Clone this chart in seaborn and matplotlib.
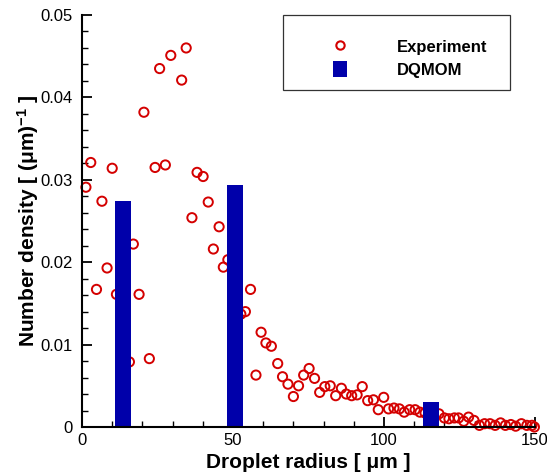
import matplotlib
matplotlib.use("Agg")
import matplotlib.pyplot as plt
import seaborn as sns
import pandas as pd
from matplotlib.patches import Rectangle, Patch
from matplotlib.lines import Line2D
from matplotlib.ticker import MultipleLocator, FixedLocator, FixedFormatter

# ---- data ----
exp_radius = [1.3, 2.9, 4.8, 6.6, 8.3, 10.0, 11.4, 15.7, 17.0, 18.9, 20.5, 22.3,
              24.2, 25.7, 27.6, 29.4, 33.0, 34.5, 36.4, 38.1, 40.1, 41.8, 43.5,
              45.4, 46.8, 48.3, 52.6, 54.1, 55.8, 57.6, 59.3, 60.9, 62.7, 64.8,
              66.4, 68.2, 70.0, 71.7, 73.4, 75.2, 77.0, 78.7, 80.4, 82.2, 84.0,
              85.9, 87.5, 89.3, 91.1, 92.8, 94.6, 96.5, 98.1, 99.9, 101.5, 103.3,
              105.1, 106.7, 108.5, 110.3, 111.9, 113.6, 118.2, 120.0, 121.5,
              123.3, 124.7, 126.4, 128.0, 129.8, 131.6, 133.3, 135.1, 136.8,
              138.6, 140.2, 142.0, 143.6, 145.5, 147.3, 149.0, 149.8]
exp_density = [0.0291, 0.0321, 0.0167, 0.0274, 0.0193, 0.0314, 0.0161, 0.0079,
               0.0222, 0.0161, 0.0382, 0.0083, 0.0315, 0.0435, 0.0318, 0.0451,
               0.0421, 0.0460, 0.0254, 0.0309, 0.0304, 0.0273, 0.0216, 0.0243,
               0.0194, 0.0203, 0.0137, 0.0140, 0.0167, 0.0063, 0.0115, 0.0102,
               0.0098, 0.0077, 0.0061, 0.0052, 0.0037, 0.0050, 0.0063, 0.0071,
               0.0059, 0.0042, 0.0049, 0.0050, 0.0038, 0.0047, 0.0040, 0.0038,
               0.0039, 0.0049, 0.0032, 0.0033, 0.0021, 0.0036, 0.0022, 0.0023,
               0.0022, 0.0018, 0.0021, 0.0021, 0.0018, 0.0017, 0.0016, 0.0011,
               0.0010, 0.0011, 0.0011, 0.0007, 0.0012, 0.0008, 0.0002, 0.0004,
               0.0004, 0.0002, 0.0005, 0.0002, 0.0003, 0.0001, 0.0004, 0.0002,
               0.0002, 0.0000]

dqmom_radius = [13.6, 50.7, 115.6]
dqmom_density = [0.0274, 0.0294, 0.0030]

x_ticks = [0, 50, 100, 150]
x_tick_labels = ["0", "50", "100", "150"]
y_ticks = [0, 0.01, 0.02, 0.03, 0.04, 0.05]
y_tick_labels = ["0", "0.01", "0.02", "0.03", "0.04", "0.05"]

labels = ["Experiment", "DQMOM"]

# ---- style ----
sns.set_style("ticks")
plt.rcParams["font.family"] = ["Liberation Sans", "DejaVu Sans"]
plt.rcParams["mathtext.default"] = "regular"
plt.rcParams["text.color"] = "black"
plt.rcParams["axes.labelcolor"] = "black"

RED = "#D40000"
BLUE = "#0000AA"

W, H = 547, 475
fig = plt.figure(figsize=(W / 100, H / 100), dpi=100)
ax = fig.add_axes([82 / W, (H - 427) / H, 453 / W, 412 / H])

df = pd.DataFrame({"r": exp_radius, "n": exp_density})
sns.scatterplot(data=df, x="r", y="n", ax=ax, marker="o", s=44,
                facecolors="none", edgecolor=RED, linewidth=1.4,
                clip_on=False, zorder=2, legend=False)

ax.bar(dqmom_radius, dqmom_density, width=5.3, color=BLUE, zorder=3,
       linewidth=0)

ax.set_xlim(0, 150)
ax.set_ylim(0, 0.05)

ax.xaxis.set_major_locator(FixedLocator(x_ticks))
ax.xaxis.set_major_formatter(FixedFormatter(x_tick_labels))
ax.xaxis.set_minor_locator(MultipleLocator(10))
ax.yaxis.set_major_locator(FixedLocator(y_ticks))
ax.yaxis.set_major_formatter(FixedFormatter(y_tick_labels))
ax.yaxis.set_minor_locator(MultipleLocator(0.002))

ax.tick_params(axis="both", which="major", direction="in", length=7.5,
               width=1.3, labelsize=12, color="black", labelcolor="black")
ax.tick_params(axis="both", which="minor", direction="in", length=4.5,
               width=1.0, color="black")
ax.tick_params(axis="y", which="major", pad=6.5)
ax.tick_params(axis="x", which="major", pad=4)

sns.despine(ax=ax)
for side in ["left", "bottom"]:
    ax.spines[side].set_linewidth(1.5)
    ax.spines[side].set_color("black")
    ax.spines[side].set_zorder(4)

ax.set_xlabel("Droplet radius [ μm ]", fontsize=15, fontweight="bold",
              labelpad=4, color="black")
ax.set_ylabel("Number density [ (μm)$^{-1}$ ]", fontsize=15,
              fontweight="bold", labelpad=0, color="black")

# legend
handles = [
    Line2D([], [], marker="o", linestyle="none", markersize=6,
           markerfacecolor="none", markeredgecolor=RED, markeredgewidth=1.5),
    Patch(facecolor=BLUE, edgecolor="none"),
]
leg = ax.legend(handles, labels, loc="upper left", bbox_to_anchor=(0.521, 0.979),
                frameon=False, prop={"weight": "bold", "size": 12},
                handlelength=0.84, handleheight=1.08, handletextpad=3.0,
                labelspacing=0.35, borderpad=0.4)
for t in leg.get_texts():
    t.set_color("black")
ax.add_patch(Rectangle(((283 - 82) / 453, (427 - 90) / 412),
                       (510 - 283) / 453, 75 / 412, transform=ax.transAxes,
                       fill=False, edgecolor="#333333", linewidth=0.9,
                       clip_on=False, zorder=5))

fig.savefig("out.png", dpi=100)
